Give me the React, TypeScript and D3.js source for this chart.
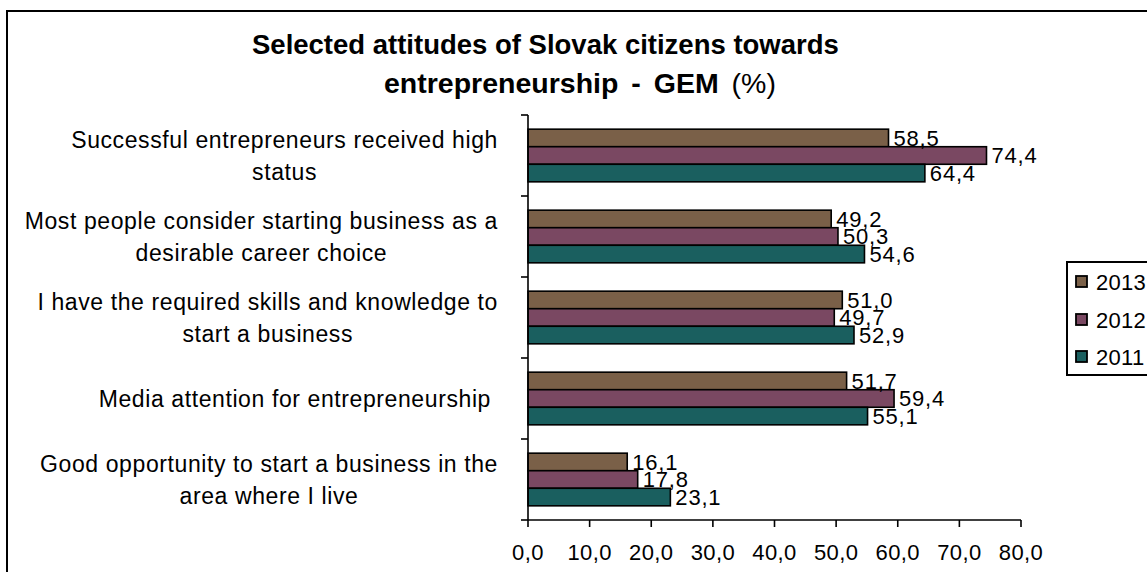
import React, { useEffect, useRef } from "react";
import * as d3 from "d3";

const categories = [
  ["Successful entrepreneurs received high", "status"],
  ["Most people consider starting business as a", "desirable career choice"],
  ["I have the required skills and knowledge to", "start a business"],
  ["Media attention for entrepreneurship "],
  ["Good opportunity to start a business in the", "area where I live"],
];
const seriesNames = ["2013", "2012", "2011"];
const values2013 = [58.5, 49.2, 51.0, 51.7, 16.1];
const values2012 = [74.4, 50.3, 49.7, 59.4, 17.8];
const values2011 = [64.4, 54.6, 52.9, 55.1, 23.1];
const seriesColors = ["#7A6048", "#7A4862", "#1A5F5F"];
const xTicks = [0, 10, 20, 30, 40, 50, 60, 70, 80];

const W = 1147;
const H = 572;
const FONT = "'Liberation Sans', Arial, sans-serif";

export default function App() {
  const ref = useRef<SVGSVGElement | null>(null);

  useEffect(() => {
    const svg = d3.select(ref.current);
    svg.selectAll("*").remove();

    const series = [values2013, values2012, values2011];
    const x = d3.scaleLinear().domain([0, 80]).range([528, 1021]);
    const y0 = d3
      .scaleBand<number>()
      .domain(d3.range(categories.length))
      .range([115, 520])
      .paddingInner(0.35)
      .paddingOuter(0.175);
    const y1 = d3
      .scaleBand<number>()
      .domain(d3.range(seriesNames.length))
      .range([0, y0.bandwidth()]);
    const fmt = (v: number) => d3.format(".1f")(v).replace(".", ",");

    // outer border
    svg
      .append("rect")
      .attr("x", 7)
      .attr("y", 11)
      .attr("width", 1300)
      .attr("height", 700)
      .attr("fill", "none")
      .attr("stroke", "#000")
      .attr("stroke-width", 2);

    // title
    svg
      .append("text")
      .attr("x", 252)
      .attr("y", 54)
      .attr("font-family", FONT)
      .attr("font-size", 27.5)
      .attr("font-weight", "bold")
      .text("Selected attitudes of Slovak citizens towards");
    const t2 = svg
      .append("text")
      .attr("x", 384)
      .attr("y", 93)
      .attr("font-family", FONT)
      .attr("font-size", 28.5)
      .attr("word-spacing", 5);
    t2.append("tspan").attr("font-weight", "bold").text("entrepreneurship - GEM ");
    t2.append("tspan").text("(%)");

    // bars
    const g = svg.append("g");
    series.forEach((vals, si) => {
      g.selectAll(null)
        .data(vals)
        .enter()
        .append("rect")
        .attr("x", x(0))
        .attr("y", (_d, i) => (y0(i) as number) + (y1(si) as number))
        .attr("width", (d) => x(d) - x(0))
        .attr("height", y1.bandwidth())
        .attr("fill", seriesColors[si])
        .attr("stroke", "#000")
        .attr("stroke-width", 1.6);
    });
    series.forEach((vals, si) => {
      g.selectAll(null)
        .data(vals)
        .enter()
        .append("text")
        .attr("x", (d) => x(d) + 5)
        .attr("y", (_d, i) => (y0(i) as number) + (y1(si) as number) + y1.bandwidth() / 2)
        .attr("dy", "0.36em")
        .attr("font-family", FONT)
        .attr("font-size", 22)
        .attr("letter-spacing", 0.8)
        .text((d) => fmt(d));
    });

    // y axis
    svg
      .append("line")
      .attr("x1", x(0))
      .attr("x2", x(0))
      .attr("y1", 115)
      .attr("y2", 520)
      .attr("stroke", "#000")
      .attr("stroke-width", 1.6);
    const bounds = d3.range(categories.length + 1).map((i) => 115 + i * y0.step());
    svg
      .selectAll(null)
      .data(bounds)
      .enter()
      .append("line")
      .attr("x1", x(0) - 7)
      .attr("x2", x(0))
      .attr("y1", (d) => d)
      .attr("y2", (d) => d)
      .attr("stroke", "#000")
      .attr("stroke-width", 1.6);

    // category labels
    categories.forEach((lines, i) => {
      const cy = (y0(i) as number) + y0.bandwidth() / 2;
      const lh = 31.5;
      const texts = lines.map((ln, li) =>
        svg
          .append("text")
          .attr("y", cy + (li - (lines.length - 1) / 2) * lh)
          .attr("dy", "0.36em")
          .attr("font-family", FONT)
          .attr("font-size", 23)
          .attr("letter-spacing", 0.6)
          .attr("text-anchor", "middle")
          .attr("xml:space", "preserve")
          .text(ln)
      );
      const widths = texts.map((t) => (t.node() as SVGTextElement).getComputedTextLength());
      const maxW = Math.max(...widths);
      const center = 498 - maxW / 2;
      texts.forEach((t) => t.attr("x", center));
    });

    // x axis
    svg
      .append("line")
      .attr("x1", x(0))
      .attr("x2", x(80))
      .attr("y1", 520)
      .attr("y2", 520)
      .attr("stroke", "#000")
      .attr("stroke-width", 1.6);
    svg
      .selectAll(null)
      .data(xTicks)
      .enter()
      .append("line")
      .attr("x1", (d) => x(d))
      .attr("x2", (d) => x(d))
      .attr("y1", 520)
      .attr("y2", 527)
      .attr("stroke", "#000")
      .attr("stroke-width", 1.6);
    svg
      .selectAll(null)
      .data(xTicks)
      .enter()
      .append("text")
      .attr("x", (d) => x(d))
      .attr("y", 552)
      .attr("dy", "0.36em")
      .attr("text-anchor", "middle")
      .attr("font-family", FONT)
      .attr("font-size", 22)
      .attr("letter-spacing", 0.4)
      .text((d) => fmt(d));

    // legend
    svg
      .append("rect")
      .attr("x", 1067)
      .attr("y", 262)
      .attr("width", 200)
      .attr("height", 113)
      .attr("fill", "#fff")
      .attr("stroke", "#000")
      .attr("stroke-width", 2);
    const legY = [282, 320, 357];
    seriesNames.forEach((name, i) => {
      svg
        .append("rect")
        .attr("x", 1076)
        .attr("y", legY[i] - 6)
        .attr("width", 11)
        .attr("height", 11)
        .attr("fill", seriesColors[i])
        .attr("stroke", "#000")
        .attr("stroke-width", 1.8);
      svg
        .append("text")
        .attr("x", 1096)
        .attr("y", legY[i])
        .attr("dy", "0.36em")
        .attr("font-family", FONT)
        .attr("font-size", 22)
        .attr("letter-spacing", 0.3)
        .text(name);
    });
  }, []);

  return (
    <svg
      ref={ref}
      width={W}
      height={H}
      style={{ position: "absolute", left: 0, top: 0, background: "#fff" }}
    />
  );
}
